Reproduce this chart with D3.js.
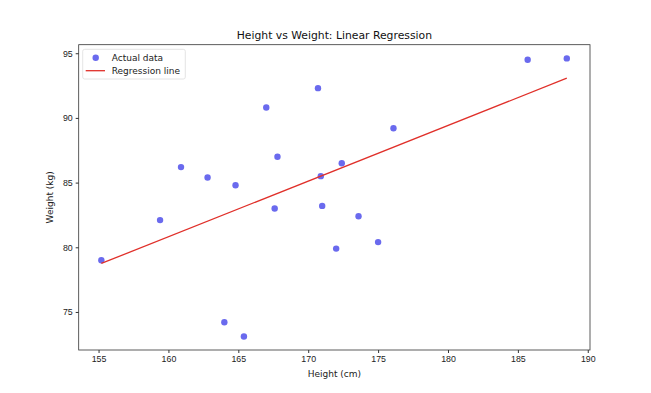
<!DOCTYPE html>
<html>
<head>
<meta charset="utf-8">
<title>Height vs Weight: Linear Regression</title>
<style>
  body { margin: 0; background: #fff; }
  svg { display: block; font-family: 'DejaVu Sans', sans-serif; }
  .axis path, .axis line { stroke: #333; }
  .axis text { fill: #222; font-size: 8.8px; }
</style>
</head>
<body>
<div id="chart"></div>
<script src="https://d3js.org/d3.v7.min.js"></script>
<script>
// height (cm) and weight (kg)
var heights = [155.2, 159.4, 160.9, 162.8, 164.8, 167.8, 167.6, 167.0, 170.7, 176.1,
               185.7, 188.5, 172.4, 170.9, 171.0, 173.6, 172.0, 175.0, 164.0, 165.4];
var weights = [79.0, 82.1, 86.2, 85.4, 84.8, 87.0, 83.0, 90.8, 92.3, 89.2,
               94.5, 94.6, 86.5, 85.5, 83.2, 82.4, 79.9, 80.4, 74.2, 73.1];

// ends of the fitted line
var lineX = [155.2, 188.5];
var lineY = [78.75, 93.07];

var xTicks = [155, 160, 165, 170, 175, 180, 185, 190];
var yTicks = [75, 80, 85, 90, 95];

var width = 651, height = 393;
var margin = {top: 44.7, right: 61, bottom: 43, left: 78.7};
var w = width - margin.left - margin.right,
    h = height - margin.top - margin.bottom;

var x = d3.scaleLinear().domain([153.58, 190.16]).range([0, w]);
var y = d3.scaleLinear().domain([72.06, 95.66]).range([h, 0]);

var svg = d3.select("#chart").append("svg")
    .attr("width", width)
    .attr("height", height);

var chart = svg.append("g")
    .attr("transform", "translate(" + margin.left + "," + margin.top + ")");

var data = heights.map(function(d, i) { return {h: d, w: weights[i]}; });

chart.selectAll(".dot")
    .data(data)
  .enter().append("circle")
    .attr("class", "dot")
    .attr("cx", function(d) { return x(d.h); })
    .attr("cy", function(d) { return y(d.w); })
    .attr("r", 3.2)
    .style("fill", "#6a6aee");

var regData = lineX.map(function(d, i) { return {h: d, w: lineY[i]}; });
var line = d3.line()
    .x(function(d) { return x(d.h); })
    .y(function(d) { return y(d.w); });

chart.append("path")
    .datum(regData)
    .attr("d", line)
    .style("fill", "none")
    .style("stroke", "#e0302a")
    .style("stroke-width", "1.3px");

// frame
chart.append("rect")
    .attr("width", w).attr("height", h)
    .style("fill", "none").style("stroke", "#333").style("stroke-width", "0.8px");

chart.append("g")
    .attr("class", "axis")
    .attr("transform", "translate(0," + h + ")")
    .call(d3.axisBottom(x).tickValues(xTicks).tickSize(3).tickPadding(3).tickSizeOuter(0))
    .call(function(g) { g.select(".domain").remove(); });

chart.append("g")
    .attr("class", "axis")
    .call(d3.axisLeft(y).tickValues(yTicks).tickSize(3).tickPadding(3).tickSizeOuter(0))
    .call(function(g) { g.select(".domain").remove(); });

svg.append("text")
    .attr("x", margin.left + w / 2)
    .attr("y", 39)
    .attr("text-anchor", "middle")
    .style("font-size", "10.8px")
    .style("fill", "#111")
    .text("Height vs Weight: Linear Regression");

svg.append("text")
    .attr("x", margin.left + w / 2)
    .attr("y", 376.5)
    .attr("text-anchor", "middle")
    .style("font-size", "9px")
    .style("fill", "#222")
    .text("Height (cm)");

svg.append("text")
    .attr("transform", "translate(53," + (margin.top + h / 2) + ") rotate(-90)")
    .attr("text-anchor", "middle")
    .style("font-size", "9px")
    .style("fill", "#222")
    .text("Weight (kg)");

// legend
var legend = chart.append("g").attr("transform", "translate(4,4.6)");
legend.append("rect")
    .attr("width", 102.6).attr("height", 29.7).attr("rx", 2)
    .style("fill", "#fff").style("stroke", "#ddd").style("stroke-width", "0.8px");
legend.append("circle")
    .attr("cx", 13).attr("cy", 8.4).attr("r", 3.2)
    .style("fill", "#6a6aee");
legend.append("line")
    .attr("x1", 3).attr("x2", 22.3).attr("y1", 21.4).attr("y2", 21.4)
    .style("stroke", "#e0302a").style("stroke-width", "1.3px");
legend.append("text")
    .attr("x", 29).attr("y", 11.6)
    .style("font-size", "9px").style("fill", "#222")
    .text("Actual data");
legend.append("text")
    .attr("x", 29).attr("y", 24.6)
    .style("font-size", "9px").style("fill", "#222")
    .text("Regression line");
</script>
</body>
</html>
